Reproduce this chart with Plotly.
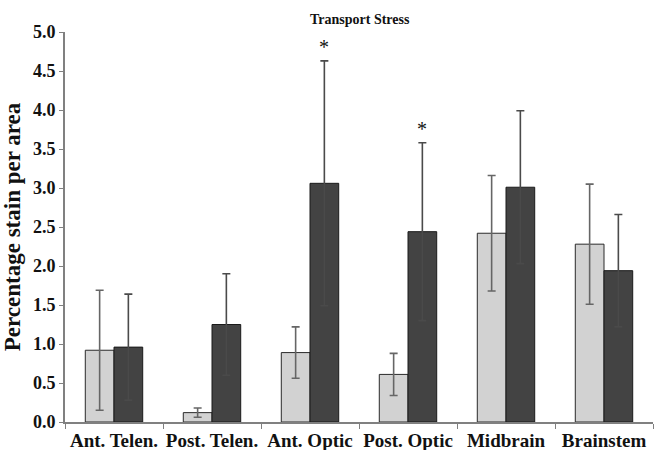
import plotly.graph_objects as go

categories = ["Ant. Telen.", "Post. Telen.", "Ant. Optic", "Post. Optic", "Midbrain", "Brainstem"]
control_vals = [0.92, 0.12, 0.89, 0.61, 2.42, 2.28]
control_err = [0.77, 0.06, 0.33, 0.27, 0.74, 0.77]
stress_vals = [0.96, 1.25, 3.06, 2.44, 3.01, 1.94]
stress_err = [0.68, 0.65, 1.57, 1.14, 0.98, 0.72]
significant = [False, False, True, True, False, False]
y_ticks = [0.0, 0.5, 1.0, 1.5, 2.0, 2.5, 3.0, 3.5, 4.0, 4.5, 5.0]

FONT = "Liberation Serif"

fig = go.Figure()
fig.add_trace(go.Bar(
    x=categories, y=control_vals, name="Control",
    marker=dict(color="#d2d2d2", line=dict(color="#2a2a2a", width=1)),
    error_y=dict(type="data", array=control_err, visible=True,
                 color="#666666", thickness=1.6, width=4),
))
fig.add_trace(go.Bar(
    x=categories, y=stress_vals, name="Transport Stress",
    marker=dict(color="#434343", line=dict(color="#1a1a1a", width=1)),
    error_y=dict(type="data", array=stress_err, visible=True,
                 color="#4a4a4a", thickness=1.6, width=4),
))

annotations = []
for c, v, e, s in zip(categories, stress_vals, stress_err, significant):
    if s:
        annotations.append(dict(
            x=c, y=v + e, xref="x", yref="y", text="*", showarrow=False,
            xshift=14.3, yanchor="bottom", yshift=1,
            font=dict(family=FONT, size=20, color="#111"),
        ))

annotations.append(dict(
    x=0.502, y=1.0, xref="paper", yref="paper", text="<b>Transport Stress</b>",
    showarrow=False, yanchor="bottom", yshift=3,
    font=dict(family=FONT, size=14, color="#111"),
))

fig.update_layout(
    width=655, height=450,
    margin=dict(l=65, r=2, t=32, b=28),
    paper_bgcolor="white", plot_bgcolor="white",
    barmode="group", bargap=0.414, bargroupgap=0,
    showlegend=False,
    font=dict(family=FONT, color="#111"),
    annotations=annotations,
    xaxis=dict(
        showline=True, linecolor="#808080", linewidth=2,
        ticks="outside", tickson="boundaries", ticklen=5, tickcolor="#808080",
        tickfont=dict(family=FONT, size=19, color="#111", weight="bold"),
        tickangle=0, automargin=False,
        showgrid=False,
    ),
    yaxis=dict(
        range=[0, 5], tickvals=y_ticks,
        ticktext=[f"<b>{t:.1f}</b>" for t in y_ticks],
        showline=True, linecolor="#808080", linewidth=2,
        ticks="outside", ticklen=4, tickcolor="#808080",
        tickfont=dict(family=FONT, size=18, color="#111"),
        showgrid=False, zeroline=False, automargin=False,
        title=dict(text="<b>Percentage stain per area</b>",
                   font=dict(family=FONT, size=23, color="#111"), standoff=6),
    ),
)

fig.write_html("out.html", config={"displayModeBar": False},
               post_script="document.body.style.margin='0';document.body.style.overflow='hidden';")
